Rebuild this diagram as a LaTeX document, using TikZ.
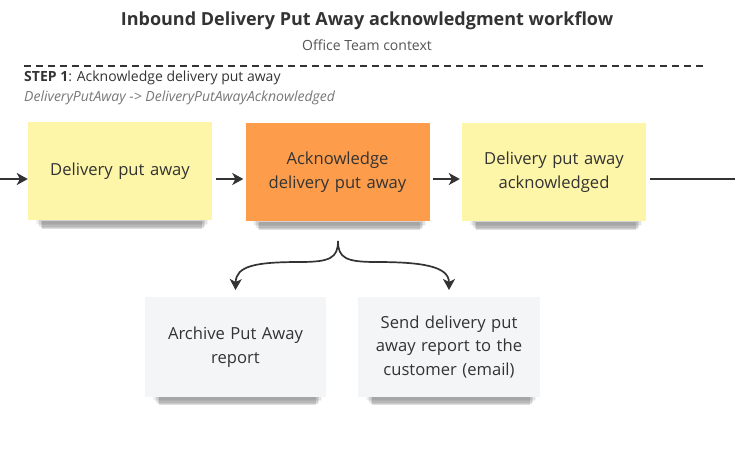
\documentclass[tikz,border=0pt]{standalone}
\usepackage{fontspec}
\setmainfont{Open Sans}
\usetikzlibrary{arrows.meta}
\definecolor{sticky}{HTML}{FDF5A8}
\definecolor{orangesticky}{HTML}{FD9D4B}
\definecolor{graysticky}{HTML}{F4F5F7}
\definecolor{ink}{HTML}{333333}
\definecolor{subgray}{HTML}{555555}
\definecolor{italgray}{HTML}{777777}
\tikzset{
  note/.style={minimum width=184pt, minimum height=98pt, align=center, text=ink,
    font=\fontsize{16.6}{23.5}\selectfont, inner sep=4pt, text width=160pt},
  flow/.style={draw=ink, line width=1.7pt, -{Stealth[length=11pt,width=12pt,inset=3pt]}},
}
\newcommand{\noteshadow}[4]{% x1 y2 x2 (bottom)
  \foreach \k/\o in {0/0.05,1/0.06,2/0.08,3/0.10,4/0.12}{
    \fill[black,opacity=\o] ({#1+8+\k*1.5},{#2-3-\k*1.3}) rectangle ({#3-4-\k*1.5},{#2+2-\k*0.6});
  }
}
\begin{document}
\begin{tikzpicture}[x=1pt,y=1pt]
\useasboundingbox (0,0) rectangle (735,-455);
% title
\node[font=\bfseries\fontsize{18}{21}\selectfont, text=ink] (title) at (367,-21) {Inbound Delivery Put Away acknowledgment workflow};
\node[font=\fontsize{14}{16}\selectfont, text=subgray] (sub) at (367,-45) {Office Team context};
\coordinate (dl) at (24,-66);
\coordinate (dr) at (706,-66);
\draw[ink, line width=1.1pt, dash pattern=on 7pt off 5pt] (dl) -- (dr);
\node[anchor=west, font=\fontsize{14}{16}\selectfont, text=ink, inner sep=0pt] (step) at (24,-78) {\textbf{STEP 1}: Acknowledge delivery put away};
\node[anchor=west, font=\itshape\fontsize{14}{16}\selectfont, text=italgray, inner sep=0pt] (cmd) at (24,-98) {DeliveryPutAway -> DeliveryPutAwayAcknowledged};
% shadows
\noteshadow{28}{-221}{212}{}
\noteshadow{245}{-222}{430}{}
\noteshadow{462}{-222}{646}{}
\noteshadow{145}{-397}{326}{}
\noteshadow{358}{-397}{540}{}
% notes
\node[note, fill=sticky] (b1) at (120,-171) {Delivery put away};
\node[note, fill=orangesticky] (b2) at (337.5,-172) {Acknowledge\\delivery put away};
\node[note, fill=sticky] (b3) at (554,-172) {Delivery put away\\acknowledged};
\node[note, fill=graysticky, minimum width=181pt, minimum height=100pt] (b4) at (235.5,-347) {Archive Put Away\\report};
\node[note, fill=graysticky, minimum width=182pt, minimum height=100pt] (b5) at (449,-347) {Send delivery put\\away report to the\\customer (email)};
% connectors
\coordinate (in) at (0,-179);
\coordinate (out) at (735,-179);
\draw[flow] (in) -- (b1.west |- in);
\draw[flow] ([xshift=4pt]b1.east |- in) -- ([xshift=-2pt]b2.west |- in);
\draw[flow] ([xshift=3pt]b2.east |- in) -- ([xshift=-2pt]b3.west |- in);
\draw[ink, line width=1.7pt] ([xshift=4pt]b3.east |- in) -- (out);
% brace
\coordinate (bt) at (338,-241);
\draw[flow] (bt) .. controls (338,-258) and (330,-262) .. (300,-262) .. controls (255,-262) and (236,-266) .. ([yshift=2pt]b4.north |- 0,-292);
\draw[flow] (bt) .. controls (338,-258) and (346,-262) .. (376,-262) .. controls (421,-262) and (449,-266) .. ([yshift=2pt]b5.north |- 0,-292);
\end{tikzpicture}
\end{document}
